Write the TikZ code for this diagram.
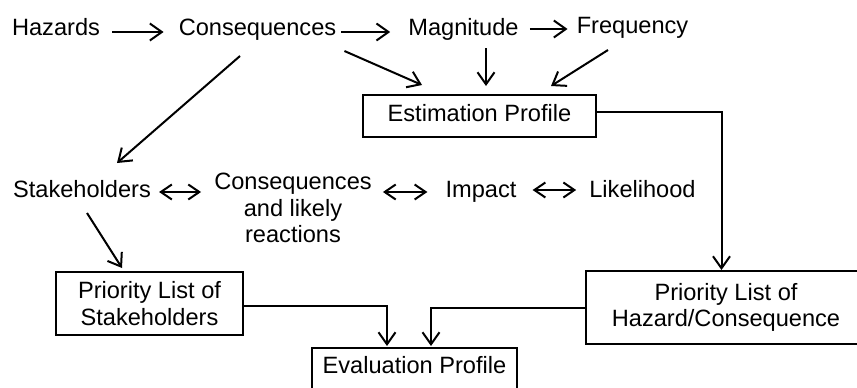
\documentclass[tikz,border=0pt]{standalone}
\usepackage{fontspec}
\setmainfont{Liberation Sans}
\usetikzlibrary{arrows.meta}
\begin{document}
\begin{tikzpicture}[x=1pt,y=-1pt,
  every node/.style={font=\fontsize{23.6pt}{26.5pt}\selectfont, inner sep=0pt},
  txt/.style={anchor=base},
  box/.style={draw, line width=2pt, align=center},
  arr/.style={line width=2pt, -{Straight Barb[length=12pt,width=17pt]}},
  darr/.style={line width=2pt, {Straight Barb[length=11pt,width=15pt]}-{Straight Barb[length=11pt,width=15pt]}}]
\useasboundingbox (0,0) rectangle (857,388);
% top row
\node[txt] (haz) at (56,35) {Hazards};
\node[txt] (cons) at (257.5,35) {Consequences};
\node[txt] (mag) at (463.5,35) {Magnitude};
\node[txt] (freq) at (632.5,34) {Frequency};
\node[box, minimum width=233pt, minimum height=42pt, text height=17.5pt, text depth=6.5pt] (est) at (479.5,116) {Estimation Profile};
% middle row
\node[txt] (stk) at (82,197) {Stakeholders};
\node[align=center] (cl) at (293,208) {Consequences\\and likely\\reactions};
\node[txt] (imp) at (481,197) {Impact};
\node[txt] (lik) at (642.5,197) {Likelihood};
% boxes
\node[box, minimum width=187pt, minimum height=63pt] (pls) at (149.5,303.5) {Priority List of\\Stakeholders};
\node[box, minimum width=280pt, minimum height=73pt] (hz) at (726,307.5) {Priority List of\\Hazard/Consequence};
\node[box, minimum width=205pt, text height=17.5pt, text depth=12pt, inner ysep=7.5pt] (ev) at (414.5,370.25) {Evaluation Profile};
% connectors
\draw[arr] ([shift={(12pt,3pt)}]haz.base east) -- ([shift={(-15pt,3pt)}]cons.base west);
\draw[arr] ([shift={(5pt,3pt)}]cons.base east) -- ([shift={(-18pt,3pt)}]mag.base west);
\draw[arr] ([shift={(11pt,6pt)}]mag.base east) -- ([shift={(-9pt,5pt)}]freq.base west);
\draw[arr] ([shift={(8pt,-16pt)}]cons.base east) -- ([shift={(-57.5pt,9pt)}]est.north);
\draw[arr] ([shift={(22.5pt,-13pt)}]mag.base) -- ([shift={(6.5pt,8pt)}]est.north);
\draw[arr] ([shift={(-24.5pt,-16pt)}]freq.base) -- ([shift={(71.5pt,8pt)}]est.north);
\draw[arr] ([shift={(-17.5pt,-21pt)}]cons.base) -- ([shift={(35pt,34pt)}]stk.base);
\draw[darr] ([shift={(8pt,5pt)}]stk.base east) -- ([shift={(-13pt,16pt)}]cl.west);
\draw[darr] ([shift={(11pt,16pt)}]cl.east) -- ([shift={(-18pt,5pt)}]imp.base west);
\draw[darr] ([shift={(16pt,7pt)}]imp.base east) -- ([shift={(-13pt,7pt)}]lik.base west);
\draw[arr] ([shift={(5pt,-16pt)}]stk.base) -- ([shift={(-27.5pt,3pt)}]pls.north);
\draw[arr] ([yshift=4pt]est.east) -| ([xshift=-4.5pt]hz.north);
\draw[arr] ([yshift=-2.5pt]pls.east) -| ([shift={(-27.5pt,1pt)}]ev.north);
\draw[arr] ([yshift=-0.5pt]hz.west) -| ([shift={(16.5pt,1pt)}]ev.north);
\end{tikzpicture}
\end{document}
